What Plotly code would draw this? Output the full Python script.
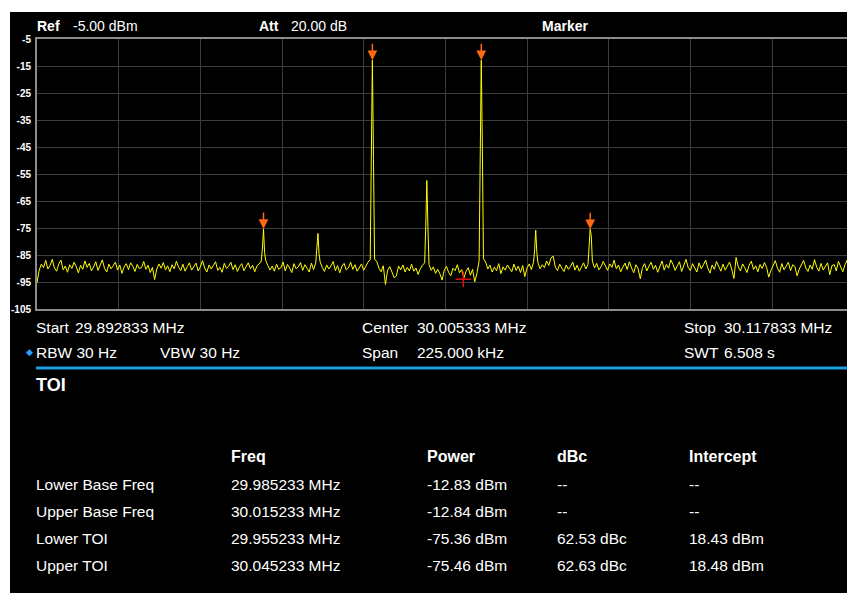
import plotly.graph_objects as go

# ---------------- data ----------------
START_MHZ = 29.892833
CENTER_MHZ = 30.005333
STOP_MHZ = 30.117833
SPAN_KHZ = 225.0
REF_DBM = -5.00
ATT_DB = 20.00
RBW_HZ = 30
VBW_HZ = 30
SWT_S = 6.508

y_tick_dbm = [-5, -15, -25, -35, -45, -55, -65, -75, -85, -95, -105]

# noise floor of the trace, evenly spread across the span
noise_dbm = [
    -95.3, -90.6, -88.4, -89.7, -87.0, -90.2, -88.9, -86.6, -89.8, -91.0,
    -88.3, -86.9, -90.5, -89.1, -91.4, -88.6, -90.0, -87.7, -89.3, -91.6,
    -88.8, -90.3, -87.2, -89.6, -88.1, -90.9, -89.4, -87.5, -90.7, -88.9,
    -86.8, -89.9, -91.3, -88.4, -90.1, -89.0, -87.6, -90.6, -88.7, -91.8,
    -89.5, -88.2, -90.4, -87.9, -89.2, -91.1, -88.5, -90.0, -89.7, -87.4,
    -90.3, -88.8, -91.5, -89.6, -94.1, -90.2, -88.3, -89.9, -87.8, -90.5,
    -89.0, -91.2, -88.6, -90.1, -87.3, -89.5, -90.8, -88.4, -91.0, -89.3,
    -87.9, -90.6, -89.1, -88.0, -90.9, -89.4, -87.1, -89.8, -91.3, -88.7,
    -90.2, -88.9, -87.5, -90.7, -89.6, -91.4, -88.1, -90.0, -89.2, -87.7,
    -90.4, -88.6, -91.1, -89.3, -88.2, -90.8, -89.5, -87.9, -90.1, -88.8,
    -91.2, -89.0, -88.3, -87.2, -86.8, -87.0, -88.9, -90.6, -89.1, -91.0,
    -88.4, -90.3, -89.7, -87.6, -90.9, -88.5, -89.8, -91.5, -88.2, -90.1,
    -89.4, -87.8, -90.7, -88.6, -89.9, -91.3, -88.0, -90.4, -87.9, -88.0,
    -87.5, -89.6, -91.1, -88.7, -90.2, -89.0, -87.4, -90.8, -88.9, -91.6,
    -89.2, -88.1, -90.5, -89.8, -87.7, -90.3, -88.6, -91.0, -89.5, -88.3,
    -90.7, -88.9, -87.6, -86.7, -88.0, -86.5, -87.4, -89.9, -91.2, -89.0,
    -95.9, -90.6, -89.3, -91.7, -93.4, -92.8, -89.1, -90.5, -88.7, -91.3,
    -89.6, -90.9, -88.4, -91.0, -89.8, -92.2, -90.1, -88.8, -87.9, -88.0,
    -88.5, -90.7, -89.4, -91.8, -90.3, -92.0, -94.3, -90.6, -89.2, -91.4,
    -92.7, -89.9, -90.8, -88.6, -91.6, -90.4, -93.5, -91.1, -89.7, -92.5,
    -90.3, -94.9, -91.8, -87.2, -86.0, -86.4, -87.6, -90.2, -88.8, -91.3,
    -89.5, -90.8, -88.2, -91.9, -89.4, -90.6, -88.7, -89.9, -91.2, -88.4,
    -90.7, -89.1, -91.5, -88.9, -93.0, -89.8, -88.3, -90.4, -87.7, -88.0,
    -87.8, -90.1, -88.6, -89.7, -87.2, -88.9, -86.1, -85.4, -89.5, -90.8,
    -88.4, -89.9, -91.1, -88.7, -90.3, -89.2, -87.6, -90.6, -88.8, -91.0,
    -89.4, -87.9, -90.2, -88.5, -88.0, -87.3, -89.8, -88.1, -90.5, -89.3,
    -87.4, -88.9, -90.7, -88.3, -89.6, -86.9, -90.1, -88.7, -91.2, -89.5,
    -88.0, -90.4, -87.5, -89.8, -91.6, -88.6, -90.0, -93.8, -89.7, -88.2,
    -90.9, -89.1, -87.7, -90.3, -88.8, -91.4, -89.3, -87.2, -90.6, -88.5,
    -89.9, -86.8, -88.4, -90.7, -89.0, -87.5, -91.1, -88.9, -86.6, -89.6,
    -90.8, -88.2, -89.5, -91.3, -87.9, -90.1, -88.6, -86.9, -89.8, -91.7,
    -88.7, -90.3, -87.4, -89.2, -91.0, -88.4, -90.6, -89.1, -87.6, -90.2,
    -93.7, -85.9, -89.4, -90.9, -88.3, -89.7, -91.5, -88.8, -87.3, -90.4,
    -89.0, -91.2, -88.5, -90.0, -87.8, -89.6, -93.2, -90.7, -88.9, -87.1,
    -89.9, -91.4, -88.2, -90.5, -89.1, -87.7, -90.8, -88.6, -89.3, -92.7,
    -90.2, -88.4, -87.0, -89.8, -91.1, -88.7, -90.3, -86.7, -89.5, -91.0,
    -88.1, -90.6, -89.2, -87.9, -92.3, -89.0, -88.5, -90.9, -87.4, -89.7,
    -91.2, -88.6, -86.9, -90.4, -89.3, -88.8,
]

# discrete signals in the trace: centre frequency, peak, and the bins either side
signal_freq_mhz = [29.955233, 29.970233, 29.985233, 30.000233, 30.015233, 30.030233, 30.045233]
signal_peak_dbm = [-75.36, -77.0, -12.83, -57.4, -12.84, -75.8, -75.46]
signal_left_dbm = [-82.4, -83.0, -49.2, -74.4, -48.9, -83.0, -81.8]
signal_right_dbm = [-84.0, -84.5, -49.2, -75.0, -45.4, -84.0, -77.8]

# red cursor cross
cross_freq_mhz = [30.010279]
cross_dbm = [-94.0]

# TOI table
table_labels = ["Lower Base Freq", "Upper Base Freq", "Lower TOI", "Upper TOI"]
table_freq_mhz = [29.985233, 30.015233, 29.955233, 30.045233]
table_power_dbm = [-12.83, -12.84, -75.36, -75.46]
table_dbc = [None, None, 62.53, 62.63]
table_intercept_dbm = [None, None, 18.43, 18.48]
table_headers = ["Freq", "Power", "dBc", "Intercept"]

# ---------------- build trace ----------------
span_mhz = SPAN_KHZ / 1000.0
step = span_mhz / (len(noise_dbm) - 1)
bin_mhz = 0.0003
pts = []
for i, p in enumerate(noise_dbm):
    f = START_MHZ + i * step
    if all(abs(f - s) > 1.5 * bin_mhz for s in signal_freq_mhz):
        pts.append((f, p))
for s, pk, lft, rgt in zip(signal_freq_mhz, signal_peak_dbm, signal_left_dbm, signal_right_dbm):
    pts += [(s - bin_mhz, lft), (s, pk), (s + bin_mhz, rgt)]
pts.sort()
trace_x = [p[0] for p in pts]
trace_y = [p[1] for p in pts]

# ---------------- figure ----------------
W, H = 847, 593
L, T, PW, PH = 37, 39, 810, 270
DIV_PX = 81.67  # width of one horizontal division on screen

fig = go.Figure()
fig.add_trace(go.Scatter(x=trace_x, y=trace_y, mode="lines",
                         line=dict(color="#ffff00", width=1), hoverinfo="skip"))
fig.add_trace(go.Scatter(x=cross_freq_mhz, y=cross_dbm, mode="markers",
                         marker=dict(symbol="cross-thin", size=11,
                                     line=dict(color="#e01010", width=1.5)),
                         hoverinfo="skip"))

FONT = "Liberation Sans"
GRID = "#3c3c3c"
BORDER = "#8c8c8c"

fig.update_layout(
    width=W, height=H,
    margin=dict(l=L, r=W - L - PW, t=T, b=H - T - PH, pad=0),
    paper_bgcolor="black", plot_bgcolor="black",
    showlegend=False,
    xaxis=dict(range=[START_MHZ, START_MHZ + span_mhz * PW / (10 * DIV_PX)],
               tick0=START_MHZ, dtick=span_mhz / 10, showticklabels=False,
               showgrid=True, gridcolor=GRID, gridwidth=1, zeroline=False,
               showline=True, linecolor=BORDER, linewidth=2, mirror=True, ticks=""),
    yaxis=dict(range=[y_tick_dbm[-1], y_tick_dbm[0]],
               tickvals=y_tick_dbm, ticktext=[str(v) for v in y_tick_dbm],
               showgrid=True, gridcolor=GRID, gridwidth=1, zeroline=False,
               showline=True, linecolor=BORDER, linewidth=2, mirror=False, ticks="",
               tickfont=dict(family=FONT, size=10, color="white", weight="bold"),
               ticklabelstandoff=2),
)

# white strips at top and left of the screenshot
def paper(x, y):
    return (x - L) / PW, 1 - (y - T) / PH

x0, y0 = paper(0, 0)
x1, y1 = paper(W, 12)
fig.add_shape(type="rect", xref="paper", yref="paper", x0=x0, x1=x1, y0=y0, y1=y1,
              fillcolor="white", line=dict(width=0), layer="above")
x0, y0 = paper(0, 0)
x1, y1 = paper(10, H)
fig.add_shape(type="rect", xref="paper", yref="paper", x0=x0, x1=x1, y0=y0, y1=y1,
              fillcolor="white", line=dict(width=0), layer="above")

# blue separator line
bx0, by = paper(36, 368)
bx1, _ = paper(W, 368)
fig.add_shape(type="line", xref="paper", yref="paper", x0=bx0, x1=bx1, y0=by, y1=by,
              line=dict(color="#1b9ee0", width=3))

def text(s, x, y, size=14, bold=False, color="white", anchor="left", family=FONT):
    # annotations carry ~2px of padding; compensate so text starts at x
    dx = -2 if anchor == "left" else 0
    px_, py_ = paper(x + dx, y)
    fig.add_annotation(x=px_, y=py_, xref="paper", yref="paper", text=s, showarrow=False,
                       xanchor=anchor, yanchor="middle",
                       font=dict(family=family, size=size, color=color,
                                 weight="bold" if bold else "normal"))

# header
text("Ref", 37, 26, 14, True)
text(f"{REF_DBM:.2f} dBm", 73, 26, 14)
text("Att", 259, 26, 14, True)
text(f"{ATT_DB:.2f} dB", 291, 26, 14)
text("Marker", 565, 26, 14, True, anchor="center")

# sweep settings
S = 15.5
text("Start", 36, 327, S)
text(f"{START_MHZ:.6f} MHz", 75, 327, S)
text("Center", 362, 327, S)
text(f"{CENTER_MHZ:.6f} MHz", 417, 327, S)
text("Stop", 684, 327, S)
text(f"{STOP_MHZ:.6f} MHz", 724, 327, S)
text("◆", 29, 352, 9, color="#2aa0ff", anchor="center")
text(f"RBW {RBW_HZ} Hz", 36, 352, S)
text(f"VBW {VBW_HZ} Hz", 160, 352, S)
text("Span", 362, 352, S)
text(f"{SPAN_KHZ:.3f} kHz", 417, 352, S)
text("SWT", 684, 352, S)
text(f"{SWT_S:.3f} s", 724, 352, S)

# TOI table
text("TOI", 36, 385, 18, True)
col_x = [231, 427, 557, 689]
for h, cx in zip(table_headers, col_x):
    text(h, cx, 456, 16, True)
row_y = [484, 511, 538, 565]
for lab, f, p, d, ic, ry in zip(table_labels, table_freq_mhz, table_power_dbm,
                                table_dbc, table_intercept_dbm, row_y):
    text(lab, 36, ry, S)
    text(f"{f:.6f} MHz", col_x[0], ry, S)
    text(f"{p:.2f} dBm", col_x[1], ry, S)
    text("--" if d is None else f"{d:.2f} dBc", col_x[2], ry, S)
    text("--" if ic is None else f"{ic:.2f} dBm", col_x[3], ry, S)

# orange peak markers
for f, p in zip(table_freq_mhz, table_power_dbm):
    fig.add_annotation(x=f, y=p, xref="x", yref="y", text="", showarrow=True,
                       arrowhead=2, arrowsize=1.3, arrowwidth=1.5, arrowcolor="#ff6a10",
                       ax=0, ay=-18, standoff=0)

fig.write_html("out.html", config={"displayModeBar": False},
               post_script="document.body.style.margin='0';document.body.style.overflow='hidden';")
